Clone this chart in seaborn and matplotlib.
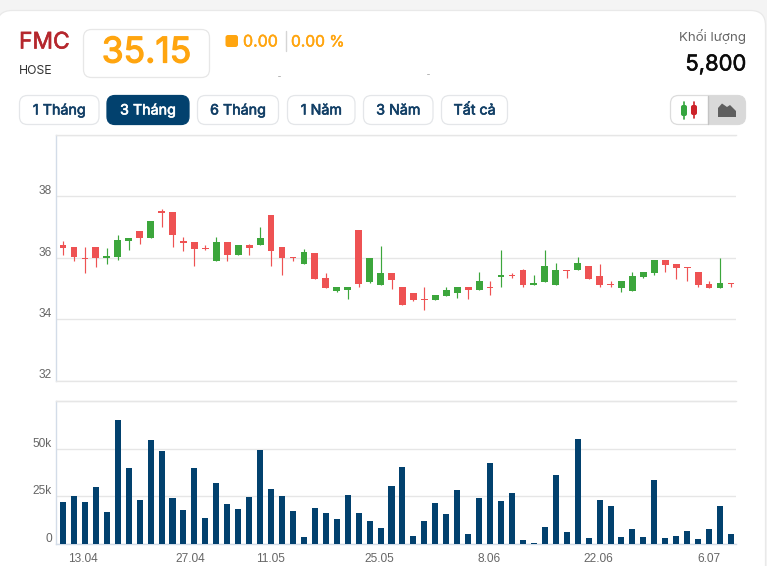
import numpy as np
import pandas as pd
import seaborn as sns
import matplotlib
matplotlib.use("Agg")
import matplotlib.pyplot as plt
import matplotlib.patheffects as pe
from matplotlib.patches import FancyBboxPatch, Rectangle, Polygon
from matplotlib.transforms import ScaledTranslation

# Daily session data
opens = [36.40,36.34,35.97,36.34,35.99,36.01,36.53,36.86,36.63,37.51,37.48,36.53,36.50,36.30,35.88,36.50,36.08,36.40,36.40,37.38,36.34,
         36.01,35.78,36.14,35.33,34.90,34.93,36.89,35.20,35.10,35.49,35.03,34.84,34.65,34.61,34.74,34.84,35.03,34.93,35.03,35.36,35.42,
         35.59,35.10,35.20,35.10,35.59,35.59,35.72,35.39,35.14,35.00,34.90,35.36,35.49,35.91,35.78,35.68,35.52,35.13,35.00,35.16]
closes = [36.32,36.02,35.95,35.98,36.04,36.57,36.63,36.63,37.18,37.45,36.73,36.48,36.27,36.27,36.50,36.08,36.40,36.30,36.63,36.21,35.98,
          35.98,36.17,35.29,35.00,35.03,35.03,35.13,35.98,35.49,35.26,34.45,34.61,34.62,34.77,34.93,35.03,34.93,35.23,35.01,35.42,35.39,
          35.10,35.16,35.72,35.59,35.57,35.82,35.29,35.10,35.12,35.23,35.39,35.52,35.91,35.75,35.65,35.66,35.10,35.00,35.16,35.14]
highs = [36.53,36.34,36.34,36.34,36.30,36.73,36.63,36.86,37.18,37.58,37.48,36.66,36.50,36.40,36.66,36.50,36.40,36.43,36.99,37.38,36.34,
         36.01,36.27,36.14,35.49,35.03,35.03,36.89,35.98,36.37,35.49,35.03,34.84,35.03,34.77,35.03,35.03,35.03,35.52,35.23,36.24,35.49,
         35.62,35.42,36.24,35.82,35.59,36.01,35.72,35.78,35.23,35.23,35.52,35.52,35.91,35.91,35.78,35.68,35.52,35.23,35.98,35.16]
lows = [36.08,35.89,35.49,35.68,35.78,35.91,36.24,36.43,36.63,36.99,36.34,36.21,35.72,36.24,35.88,35.88,36.08,36.08,36.40,35.72,35.42,
        35.88,35.78,35.29,35.00,34.87,34.64,35.03,35.16,35.10,34.97,34.45,34.58,34.28,34.61,34.74,34.67,34.64,34.93,34.77,35.03,35.33,
        35.03,35.10,35.20,35.10,35.33,35.59,35.29,35.03,35.03,34.87,34.90,35.33,35.42,35.52,35.29,35.23,35.03,35.00,35.00,35.03]
volumes_k = [22.2,25.4,22.2,30.1,16.9,65.5,40.1,23.2,54.9,49.1,24.3,18.0,40.1,13.7,32.2,21.1,18.5,24.8,49.6,29.0,25.4,
             17.4,3.7,19.0,16.4,13.2,25.9,16.4,12.1,8.5,30.6,40.7,4.2,12.1,21.7,15.8,28.5,5.3,24.3,42.8,22.7,26.9,
             2.1,0.5,9.0,36.4,6.3,55.5,3.2,23.2,20.1,3.7,7.9,3.7,33.8,3.2,4.2,6.9,2.6,7.9,20.1,5.3]

date_ticks = [1.85, 11.62, 18.95, 28.9, 38.93, 48.93, 58.95]
date_labels = ["13.04", "27.04", "11.05", "25.05", "8.06", "22.06", "6.07"]
price_ticks = [32, 34, 36, 38, 40]
price_labels = ["32", "34", "36", "38", ""]
volume_ticks = [0, 25, 50, 75.5]
volume_labels = ["0", "25k", "50k", ""]

range_buttons = ["1 Tháng", "3 Tháng", "6 Tháng", "1 Năm", "3 Năm", "Tất cả"]

RED = "#ee5253"
GREEN = "#3ca63c"
NAVY = "#02416e"
AMBER = "#ffa50f"
GRID = "#e6e6e6"
AXIS = "#d3dce8"
TICK_TEXT = "#666666"

W, H = 767, 566
sns.set_theme(style="white")
plt.rcParams["font.family"] = ["Inter", "DejaVu Sans"]

fig = plt.figure(figsize=(W / 100, H / 100), dpi=100, facecolor="#f4f4f4")


def rect(x0, y0, x1, y1):
    """Axes rectangle from pixel edges measured from the top-left corner."""
    return [x0 / W, 1 - y1 / H, (x1 - x0) / W, (y1 - y0) / H]


def heavy(color, width):
    """Thicken glyph outlines, since the family renders in one weight only."""
    return [pe.withStroke(linewidth=width, foreground=color)]


# Full-figure layer in pixel coordinates for the card and header widgets
chrome = fig.add_axes([0, 0, 1, 1], zorder=0)
chrome.set_xlim(0, W)
chrome.set_ylim(H, 0)
chrome.axis("off")


def box(x0, y0, x1, y1, face="white", edge="#e7e7e7", radius=8, lw=0.9):
    patch = FancyBboxPatch((x0, y0), x1 - x0, y1 - y0,
                           boxstyle=f"round,pad=0,rounding_size={radius}",
                           fc=face, ec=edge, lw=lw)
    chrome.add_patch(patch)
    return patch


box(-3, 10.5, 765.5, 620, radius=15, edge="#e9e9e9")

chrome.text(19, 42.5, "FMC", color="#b5272d", fontsize=16.4, va="center", ha="left",
            path_effects=heavy("#b5272d", 0.45))
chrome.text(19, 70.5, "HOSE", color="#333333", fontsize=8.8, va="center", ha="left")
box(83.5, 29.5, 209.5, 77.5)
chrome.text(146.5, 53, "35.15", color=AMBER, fontsize=25.5, va="center", ha="center",
            path_effects=heavy(AMBER, 0.9))

box(225.5, 35, 238, 47, face=AMBER, edge=AMBER, radius=2.5, lw=0)
chrome.text(243, 42, "0.00", color=AMBER, fontsize=11.5, va="center", ha="left",
            path_effects=heavy(AMBER, 0.35))
chrome.plot([286, 286], [31, 51], color="#d5d5d5", lw=1)
chrome.text(291, 42, "0.00 %", color=AMBER, fontsize=11.2, va="center", ha="left",
            path_effects=heavy(AMBER, 0.35))
chrome.plot([278, 280], [76, 76], color="#b5b5b5", lw=0.7)
chrome.plot([427, 429], [74, 74], color="#b5b5b5", lw=0.7)

chrome.text(746, 37, "Khối lượng", color="#666666", fontsize=9.6, va="center", ha="right")
chrome.text(746, 64.5, "5,800", color="#0b0b0b", fontsize=15.8, va="center", ha="right",
            path_effects=heavy("#0b0b0b", 0.4))

button_edges = [(19.5, 99), (107, 189), (197.5, 278.5), (287.5, 355), (363.5, 433), (441.5, 507.5)]
for label, (x0, x1) in zip(range_buttons, button_edges):
    active = label == "3 Tháng"
    text_color = "white" if active else "#123f66"
    box(x0, 95.5, x1, 124.5, face=NAVY if active else "white", edge=NAVY if active else "#e4e6e9")
    chrome.text((x0 + x1) / 2, 110.5, label, color=text_color, fontsize=10.3,
                va="center", ha="center", path_effects=heavy(text_color, 0.45))

# Chart-type toggle with candlestick and area glyphs
toggle = box(670.5, 95.5, 745.5, 124.5, edge="#dcdcdc")
shade = Rectangle((708, 95), 38, 30, fc="#d9d9d9", ec="none")
chrome.add_patch(shade)
shade.set_clip_path(toggle)
chrome.plot([708, 708], [96, 124], color="#c4c4c4", lw=1)
for cx, col, top, bot in [(684, "#35a53f", 105, 116), (694, "#cc2229", 105, 115)]:
    chrome.plot([cx, cx], [top - 3, bot + 2.5], color=col, lw=1.2)
    box(cx - 3, top, cx + 3, bot, face=col, edge=col, radius=2, lw=0)
chrome.add_patch(Polygon([(718, 117), (718, 108), (722, 103.5), (727, 107), (730, 105),
                          (736, 111), (736, 117)], closed=True, fc="#5f5f5f", ec="none"))

# Candlestick panel
sessions = pd.DataFrame({"session": np.arange(len(opens)), "open": opens, "close": closes,
                         "high": highs, "low": lows, "volume": volumes_k})
x_min, x_max = -0.594, 61.46

ax_p = fig.add_axes(rect(56.5, 134.5, 736, 380.5), zorder=1)
ax_p.patch.set_alpha(0)
ax_p.set_axisbelow(True)
colors = np.where(sessions["close"] >= sessions["open"], GREEN, RED)
ax_p.vlines(sessions["session"], sessions["low"], sessions["high"], colors=colors, lw=0.85, zorder=2)
ax_p.bar(sessions["session"], (sessions["close"] - sessions["open"]).abs(),
         bottom=sessions[["open", "close"]].min(axis=1), width=0.62, color=colors, lw=0, zorder=3)
ax_p.set_xlim(x_min, x_max)
ax_p.set_ylim(32, 40)
ax_p.set_yticks(price_ticks, price_labels)
ax_p.set_xticks([])

# Volume panel
ax_v = fig.add_axes(rect(56.5, 400.5, 736, 544), zorder=1)
ax_v.patch.set_alpha(0)
ax_v.set_axisbelow(True)
sns.barplot(data=sessions, x="session", y="volume", native_scale=True, color=NAVY,
            saturation=1, width=0.55, gap=0, errorbar=None, linewidth=0, ax=ax_v, zorder=3)
ax_v.set_xlim(x_min, x_max)
ax_v.set_ylim(0, 75.5)
ax_v.set_yticks(volume_ticks, volume_labels)
ax_v.set_xticks(date_ticks, date_labels)
ax_v.set_xlabel("")
ax_v.set_ylabel("")

nudge_down = ScaledTranslation(0, -1 / 100, fig.dpi_scale_trans)
for ax in (ax_p, ax_v):
    ax.grid(True, axis="y", color=GRID, lw=1)
    ax.grid(False, axis="x")
    for side, spine in ax.spines.items():
        spine.set_linewidth(1)
        spine.set_color(AXIS if side == "left" else GRID)
    ax.spines["right"].set_visible(False)
    ax.tick_params(axis="y", length=0, pad=3.5, labelsize=8.6, labelcolor=TICK_TEXT)
    for lab in ax.get_yticklabels():
        lab.set_family(["Liberation Sans", "DejaVu Sans"])
        lab.set_va("bottom")
        lab.set_transform(lab.get_transform() + nudge_down)

ax_v.spines["bottom"].set_color(AXIS)
ax_p.spines["bottom"].set_color(GRID)
ax_v.tick_params(axis="x", length=6.5, width=0.9, color=AXIS, pad=0, labelsize=8.6, labelcolor=TICK_TEXT)
for lab in ax_v.get_xticklabels():
    lab.set_family(["Liberation Sans", "DejaVu Sans"])

fig.savefig("out.png", dpi=100, facecolor=fig.get_facecolor())
